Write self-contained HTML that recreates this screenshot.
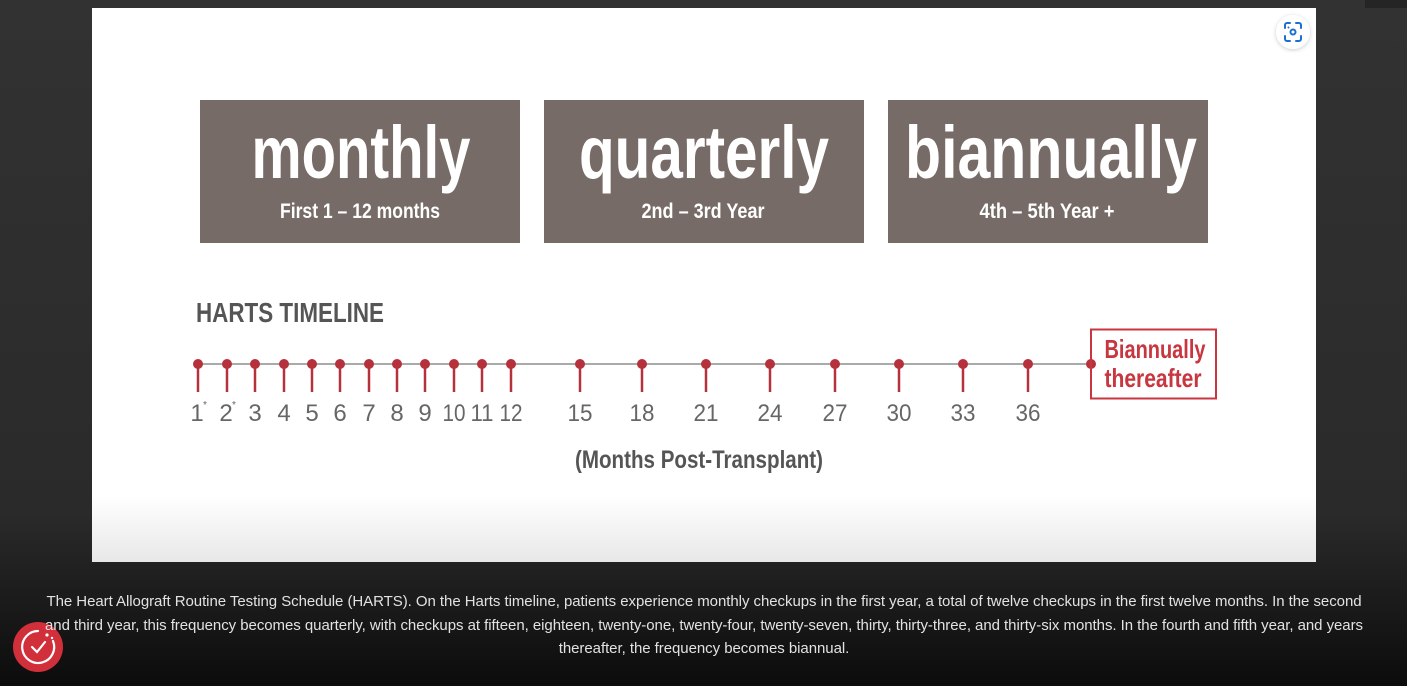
<!DOCTYPE html>
<html><head><meta charset="utf-8"><style>
html,body{margin:0;padding:0;width:1407px;height:686px;overflow:hidden;background:linear-gradient(#323232 0%,#2a2a2a 75%,#0c0c0c 100%);font-family:"Liberation Sans",sans-serif}
.cap{position:absolute;left:44px;width:1320px;top:590px;color:#e2e2e2;font-size:15px;line-height:23.5px;text-align:center;letter-spacing:-0.05px}
</style></head><body>
<div style="position:absolute;left:1365px;top:0;width:42px;height:8px;background:#252525"></div>
<svg width="1407" height="686" style="position:absolute;left:0;top:0">
<defs><linearGradient id="g" x1="0" y1="0" x2="0" y2="1"><stop offset="0.88" stop-color="#fff"/><stop offset="1" stop-color="#e8e8e8"/></linearGradient>
<filter id="sh"><feDropShadow dx="0" dy="1" stdDeviation="2" flood-opacity="0.2"/></filter></defs>
<rect x="92" y="8" width="1224" height="554" fill="url(#g)"/>
<circle cx="1293" cy="32" r="17" fill="#fff" filter="url(#sh)"/>
<g fill="none" stroke="#1f6fd1" stroke-width="2" stroke-linecap="round">
<path d="M1285 28v-3a2 2 0 0 1 2-2h3M1296 23h3a2 2 0 0 1 2 2v3M1301 36v3a2 2 0 0 1-2 2h-3M1290 41h-3a2 2 0 0 1-2-2v-3"/>
<circle cx="1293" cy="32" r="2.5"/></g>
<circle cx="1288.5" cy="27.5" r="1" fill="#1f6fd1"/>
<g fill="#766b66"><rect x="200" y="100" width="320" height="143"/><rect x="544" y="100" width="320" height="143"/><rect x="888" y="100" width="320" height="143"/></g>
<g fill="#fff" font-family="Liberation Sans Narrow,Liberation Sans,sans-serif" font-weight="bold" text-anchor="middle">
<text x="361" y="178" font-size="74" textLength="219" lengthAdjust="spacingAndGlyphs">monthly</text>
<text x="704" y="178" font-size="74" textLength="250" lengthAdjust="spacingAndGlyphs">quarterly</text>
<text x="1051" y="178" font-size="74" textLength="292" lengthAdjust="spacingAndGlyphs">biannually</text>
<text x="360" y="218" font-size="21" textLength="160" lengthAdjust="spacingAndGlyphs">First 1 – 12 months</text>
<text x="703" y="218" font-size="21" textLength="123" lengthAdjust="spacingAndGlyphs">2nd – 3rd Year</text>
<text x="1047" y="218" font-size="21" textLength="135" lengthAdjust="spacingAndGlyphs">4th – 5th Year +</text>
</g>
<text x="196" y="322" font-size="28" font-weight="bold" fill="#555" font-family="Liberation Sans Narrow,Liberation Sans,sans-serif" textLength="188" lengthAdjust="spacingAndGlyphs">HARTS TIMELINE</text>
<line x1="198" y1="364" x2="1091" y2="364" stroke="#aaa" stroke-width="2"/>
<g id="d" stroke="#b5313c" stroke-width="2.5" fill="#b5313c"></g>
<rect x="1091" y="329.5" width="125" height="69" fill="none" stroke="#c8363f" stroke-width="2"/>
<g fill="#c8363f" font-weight="bold" font-family="Liberation Sans Narrow,Liberation Sans,sans-serif" text-anchor="middle" font-size="26">
<text x="1155" y="358" textLength="101" lengthAdjust="spacingAndGlyphs">Biannually</text>
<text x="1153" y="387" textLength="97" lengthAdjust="spacingAndGlyphs">thereafter</text></g>
<g id="l" fill="#666" font-size="24" text-anchor="middle" font-family="Liberation Sans Narrow,Liberation Sans,sans-serif"></g>
<text x="699" y="468" font-size="25" font-weight="bold" fill="#555" text-anchor="middle" font-family="Liberation Sans Narrow,Liberation Sans,sans-serif" textLength="248" lengthAdjust="spacingAndGlyphs">(Months Post-Transplant)</text>
<circle cx="38" cy="647" r="25" fill="#d1303b"/>
<g fill="none" stroke="#fff" stroke-width="2.2" stroke-linecap="round"><path d="M38 631a16 16 0 1 0 15 10"/><path d="M32 647l5 5 8-10"/></g>
<circle cx="47" cy="635" r="1.6" fill="#fff"/><circle cx="52" cy="638" r="1.2" fill="#fff"/>
</svg>
<div class="cap">The Heart Allograft Routine Testing Schedule (HARTS). On the Harts timeline, patients experience monthly checkups in the first year, a total of twelve checkups in the first twelve months. In the second and third year, this frequency becomes quarterly, with checkups at fifteen, eighteen, twenty-one, twenty-four, twenty-seven, thirty, thirty-three, and thirty-six months. In the fourth and fifth year, and years thereafter, the frequency becomes biannual.</div>
<script>
var xs=[198,227,255,284,312,340,369,397,425,454,482,511,580,642,706,770,835,899,963,1028];
var lb=["1","2","3","4","5","6","7","8","9","10","11","12","15","18","21","24","27","30","33","36"];
var d=document.getElementById('d'),l=document.getElementById('l'),s="";
xs.forEach(function(x,i){s+='<line x1="'+x+'" y1="364" x2="'+x+'" y2="392"/><circle cx="'+x+'" cy="364" r="5" stroke="none"/>';});
s+='<circle cx="1091" cy="364" r="5" stroke="none"/>';
d.innerHTML=s;var t="";
xs.forEach(function(x,i){var tl=lb[i].length>1?' textLength="'+(i<12?23:25)+'" lengthAdjust="spacingAndGlyphs"':'';t+='<text x="'+(i<2?x-1:x)+'" y="421"'+tl+'>'+lb[i]+'</text>';if(i<2)t+='<text x="'+(x+7)+'" y="408" font-size="10">*</text>';});
l.innerHTML=t;
</script>
</body></html>
